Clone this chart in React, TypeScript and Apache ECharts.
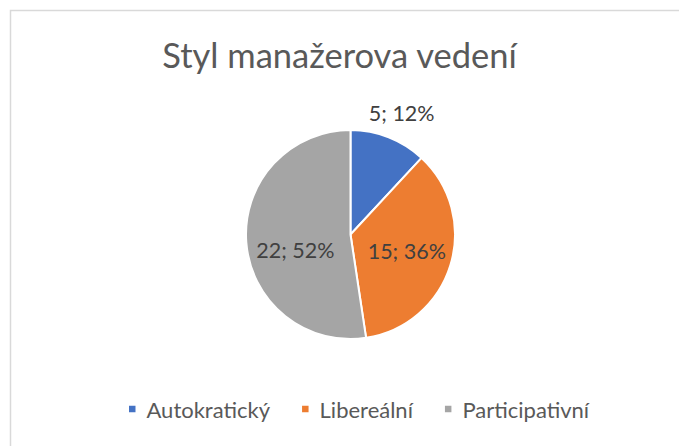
import React, { useEffect, useRef } from "react";
import * as echarts from "echarts";

const titleText = "Styl manažerova vedení";
const categories = ["Autokratický", "Libereální", "Participativní"];
const values = [5, 15, 22];
const colors = ["#4472C4", "#ED7D31", "#A5A5A5"];
const labelShift = [
  [31, -70],
  [3.5, 0],
  [0, 11.5],
];

export default function App() {
  const ref = useRef<HTMLDivElement>(null);
  useEffect(() => {
    if (!ref.current) return;
    const chart = echarts.init(ref.current, null, { renderer: "svg" });
    const font = "Lato, 'Noto Sans', sans-serif";
    chart.setOption({
      animation: false,
      backgroundColor: "#ffffff",
      color: colors,
      title: {
        text: titleText,
        left: "center",
        top: 32,
        textStyle: {
          fontFamily: font,
          fontSize: 34.5,
          fontWeight: "normal",
          color: "#595959",
        },
      },
      legend: {
        bottom: 21,
        left: 122,
        icon: "rect",
        itemWidth: 8.5,
        itemHeight: 8.5,
        itemGap: 30,
        data: categories,
        textStyle: {
          fontFamily: font,
          fontSize: 22,
          color: "#595959",
          padding: [0, 0, 0, 5],
        },
      },
      graphic: [
        {
          type: "rect",
          shape: { x: 10.5, y: 10.5, width: 700, height: 500 },
          style: { fill: "none", stroke: "#d9d9d9", lineWidth: 1.5 },
          silent: true,
        },
      ],
      series: [
        {
          type: "pie",
          center: [350.5, 234.5],
          radius: 104.5,
          startAngle: 90,
          clockwise: true,
          itemStyle: { borderColor: "#ffffff", borderWidth: 2 },
          label: {
            show: true,
            position: "inside",
            fontFamily: font,
            fontSize: 21.5,
            color: "#404040",
            formatter: (p: any) => `${p.value}; ${Math.round(p.percent)}%`,
          },
          labelLine: { show: false },
          labelLayout: (p: any) => ({
            dx: labelShift[p.dataIndex][0],
            dy: labelShift[p.dataIndex][1],
          }),
          emphasis: { disabled: true },
          data: categories.map((name, i) => ({ name, value: values[i] })),
        },
      ],
    });
    return () => chart.dispose();
  }, []);
  return (
    <div
      ref={ref}
      style={{ position: "fixed", left: 0, top: 0, width: 679, height: 446 }}
    />
  );
}
